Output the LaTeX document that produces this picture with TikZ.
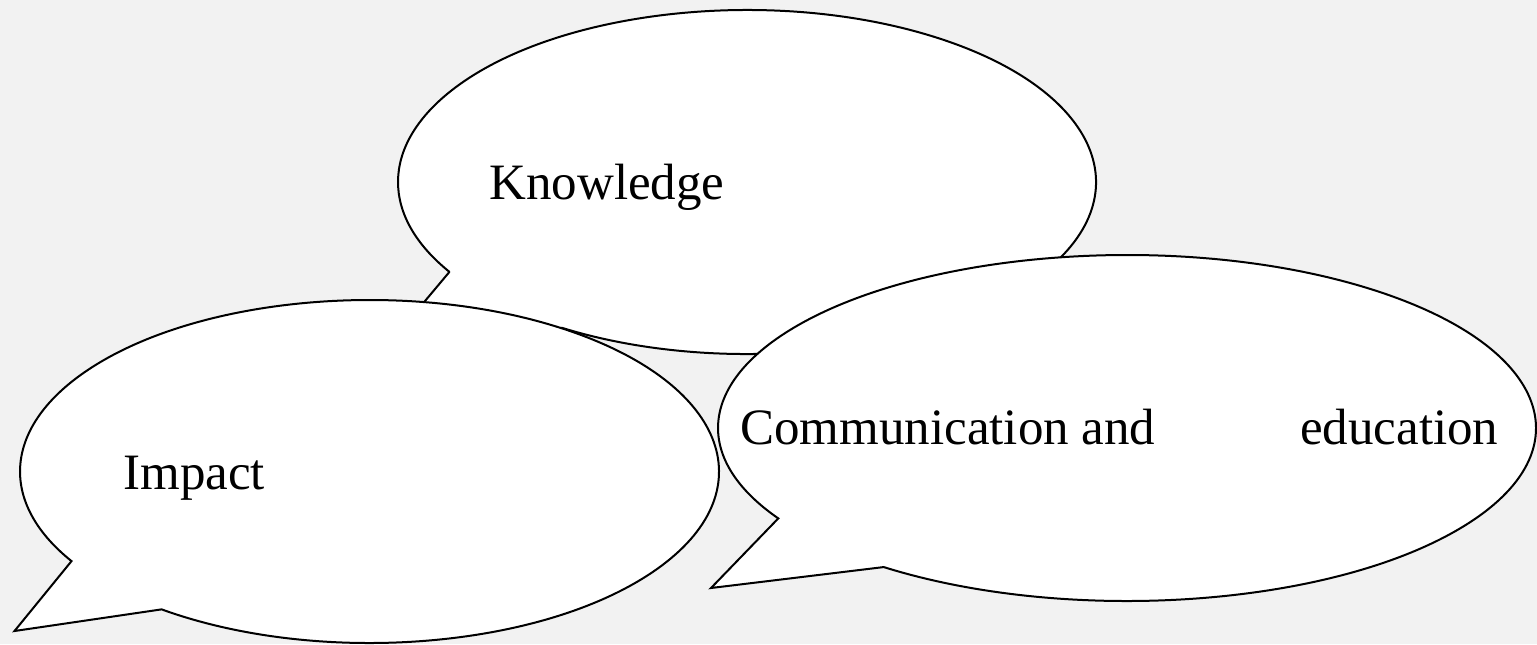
\documentclass[tikz,border=0pt]{standalone}
\usepackage{fontspec}
\setmainfont{Liberation Serif}
\usepackage{tikz}
\usetikzlibrary{positioning}

\definecolor{paper}{HTML}{F2F2F2}

\tikzset{
  bubble/.style={draw=black, fill=white, line width=1pt, line join=miter},
  word/.style={inner sep=0pt, anchor=base west, font=\fontsize{25.5}{30}\selectfont}
}

\begin{document}
\begin{tikzpicture}[x=0.5pt, y=0.5pt]
  \fill[paper] (0,0) rectangle (1537,-644);
  \useasboundingbox (0,0) rectangle (1537,-644);
  % tips of the three bubbles
  \coordinate (know-tip) at (391.5,-341);
  \coordinate (imp-tip)  at (14.5,-631);
  \coordinate (com-tip)  at (711,-588);
  % Knowledge
  \draw[bubble, line join=bevel] (747,-182) ++(238:349 and 172)
    arc[start angle=238, end angle=571.5, x radius=349, y radius=172]
    -- (know-tip) -- cycle;
  \node[word] (know) at (489,-199) {Knowledge};
  % Impact
  \draw[bubble] (369.5,-471.5) ++(233.5:349.5 and 171.5)
    arc[start angle=233.5, end angle=571.5, x radius=349.5, y radius=171.5]
    -- (imp-tip) -- cycle;
  \node[word] (imp) at (123,-489) {Impact};
  % Communication and education
  \draw[bubble] (1127,-428) ++(233.5:409 and 173)
    arc[start angle=233.5, end angle=571.5, x radius=409, y radius=173]
    -- (com-tip) -- cycle;
  \node[word] (com) at (740,-444) {\makebox[379pt][l]{Communication and\hfill education}};
\end{tikzpicture}
\end{document}
